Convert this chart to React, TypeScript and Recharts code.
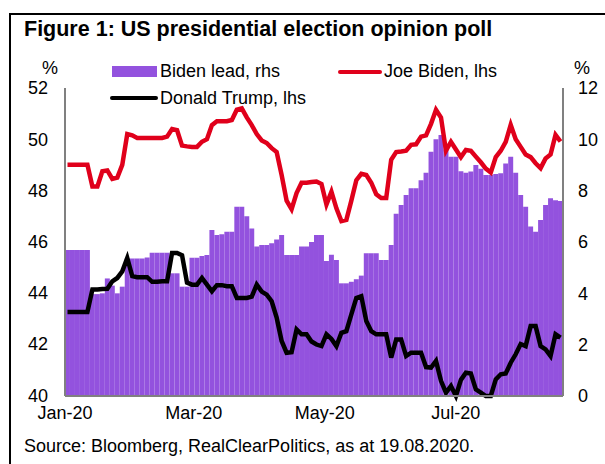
import React from "react";
import { ComposedChart, Bar, Line, XAxis, YAxis, Legend } from "recharts";

// daily data 1 Jan - 19 Aug 2020 in ~2.3 day steps
const DAYS = 232;
const tickDays = [0, 60, 121, 182];
const tickLabels = ["Jan-20", "Mar-20", "May-20", "Jul-20"];
const leftTicks = [40, 42, 44, 46, 48, 50, 52];
const rightTicks = [0, 2, 4, 6, 8, 10, 12];

const bidenLhs = [
  49.0, 49.0, 49.0, 49.0, 49.0, 48.15, 48.15, 48.75, 48.78, 48.45,
  48.5, 49.0, 50.2, 50.15, 50.05, 50.05, 50.05, 50.05, 50.05, 50.05,
  50.1, 50.4, 50.35, 49.75, 49.72, 49.7, 49.7, 49.9, 50.0, 50.55,
  50.7, 50.7, 50.7, 50.75, 51.15, 51.2, 50.85, 50.55, 50.2, 49.95,
  49.85, 49.65, 49.5, 48.6, 47.6, 47.27, 47.9, 48.3, 48.3, 48.33,
  48.35, 48.25, 47.45, 47.95, 47.3, 46.8, 46.85, 47.6, 48.4, 48.65,
  48.6, 48.3, 47.85, 47.7, 47.7, 49.2, 49.5, 49.52, 49.55, 49.78,
  49.8, 50.1, 50.15, 50.6, 51.15, 50.85, 49.55, 49.9, 49.6, 49.3,
  49.58, 49.55, 49.32, 49.1, 48.85, 48.7, 49.3, 49.55, 49.9, 50.56,
  50.0, 49.7, 49.4, 49.3, 49.06, 48.87, 49.25, 49.4, 50.17, 49.91,
];

const trumpLhs = [
  43.25, 43.25, 43.25, 43.25, 43.25, 44.13, 44.13, 44.15, 44.16, 44.45,
  44.58, 44.84, 45.36, 44.65, 44.61, 44.61, 44.61, 44.43, 44.43, 44.45,
  44.45, 45.56, 45.56, 45.47, 44.4, 44.32, 44.32, 44.58, 44.32, 44.06,
  44.3, 44.3, 44.26, 44.26, 43.8, 43.8, 43.8, 43.85, 44.32, 44.05,
  43.93, 43.67, 43.03, 42.12, 41.66, 41.68, 42.57, 42.38, 42.38, 42.1,
  41.98, 41.92, 42.38, 42.2, 41.92, 42.44, 42.5, 43.16, 43.8, 43.87,
  42.9, 42.5, 42.38, 42.38, 42.38, 41.47, 42.18, 42.18, 41.53, 41.66,
  41.66, 41.66, 41.1, 41.08, 41.34, 40.56, 40.1, 40.36, 39.97, 40.6,
  40.88, 40.85, 40.23, 40.1, 39.97, 39.97, 40.62, 40.82, 40.85, 41.27,
  41.6, 42.0, 41.92, 42.7, 42.7, 41.92, 41.79, 41.53, 42.38, 42.25,
];

const leadRhs = [
  5.69, 5.69, 5.69, 5.69, 5.69, 3.97, 3.97, 4.0, 4.58, 4.3,
  4.0, 4.26, 5.36, 5.36, 5.36, 5.36, 5.4, 5.58, 5.58, 5.58,
  5.58, 4.78, 4.78, 4.26, 4.26, 5.39, 5.39, 5.45, 5.49, 6.47,
  6.27, 6.3, 6.4, 6.4, 7.37, 7.37, 7.0, 6.53, 5.82, 5.88,
  5.88, 5.95, 6.1, 6.27, 5.49, 5.49, 5.49, 5.82, 5.82, 6.0,
  6.27, 6.27, 5.26, 5.5, 5.3, 4.39, 4.39, 4.45, 4.55, 4.69,
  5.56, 5.56, 5.56, 5.3, 5.3, 5.88, 7.1, 7.44, 7.83, 8.09,
  8.09, 8.41, 8.7, 9.52, 10.0, 10.17, 9.6, 9.32, 9.32, 8.76,
  8.7, 8.75, 9.0, 8.85, 8.61, 8.61, 8.65, 8.68, 9.06, 9.32,
  8.7, 7.83, 7.37, 6.6, 6.4, 6.86, 7.44, 7.7, 7.63, 7.6,
];

const data = bidenLhs.map((b, i) => ({
  day: ((i + 0.5) * DAYS) / bidenLhs.length,
  biden: b,
  trump: trumpLhs[i],
  lead: leadRhs[i],
}));

const PURPLE = "#9352de";
const RED = "#e0001b";
const FONT = "'Liberation Sans', Arial, sans-serif";

const tickStyle = { fontSize: 18, fill: "#000", fontFamily: FONT };

const LegendBox = () => (
  <div style={{ position: "relative", height: 0, fontFamily: FONT, fontSize: 18, color: "#000" }}>
    <div style={{ position: "absolute", left: 112, top: 66, width: 45, height: 11, background: PURPLE }} />
    <div style={{ position: "absolute", left: 160, top: 61, lineHeight: "20px" }}>Biden lead, rhs</div>
    <div style={{ position: "absolute", left: 338, top: 70, width: 44, height: 4, borderRadius: 2, background: RED }} />
    <div style={{ position: "absolute", left: 384, top: 61, lineHeight: "20px" }}>Joe Biden, lhs</div>
    <div style={{ position: "absolute", left: 110, top: 96, width: 48, height: 4, borderRadius: 2, background: "#000" }} />
    <div style={{ position: "absolute", left: 160, top: 88, lineHeight: "20px" }}>Donald Trump, lhs</div>
  </div>
);

export default function App() {
  return (
    <div
      style={{
        position: "absolute",
        left: 0,
        top: 0,
        width: 605,
        height: 464,
        overflow: "hidden",
        background: "#fff",
        fontFamily: FONT,
      }}
    >
      <div
        style={{
          position: "absolute",
          left: 9,
          top: 13,
          width: 640,
          height: 500,
          border: "2px solid #000",
        }}
      />
      <div style={{ position: "absolute", left: 24, top: 17, fontSize: 21.5, fontWeight: "bold", lineHeight: "24px" }}>
        Figure 1: US presidential election opinion poll
      </div>
      <div style={{ position: "absolute", left: 42, top: 58, fontSize: 18, lineHeight: "20px" }}>%</div>
      <div style={{ position: "absolute", left: 574, top: 58, fontSize: 18, lineHeight: "20px" }}>%</div>
      <ComposedChart
        width={605}
        height={464}
        data={data}
        margin={{ top: 88, right: 0, bottom: 0, left: 0 }}
        barCategoryGap={0}
        barGap={0}
      >
        <XAxis
          type="number"
          dataKey="day"
          domain={[0, DAYS]}
          ticks={tickDays}
          tickFormatter={(v: number) => tickLabels[tickDays.indexOf(v)]}
          height={68}
          axisLine={{ stroke: "#808080", strokeWidth: 2 }}
          tickLine={false}
          tick={tickStyle}
          tickMargin={4}
        />
        <YAxis
          yAxisId="left"
          orientation="left"
          domain={[40, 52]}
          ticks={leftTicks}
          width={65}
          axisLine={{ stroke: "#808080", strokeWidth: 2 }}
          tickLine={false}
          tick={tickStyle}
          tickMargin={11}
        />
        <YAxis
          yAxisId="right"
          orientation="right"
          domain={[0, 12]}
          ticks={rightTicks}
          width={42}
          axisLine={{ stroke: "#808080", strokeWidth: 2 }}
          tickLine={false}
          tick={tickStyle}
          tickMargin={9}
        />
        <Legend content={<LegendBox />} wrapperStyle={{ top: 0, left: 0, width: 605, height: 0 }} />
        <Bar yAxisId="right" dataKey="lead" fill={PURPLE} barSize={4.97} isAnimationActive={false} />
        <Line
          yAxisId="left"
          type="linear"
          dataKey="biden"
          stroke={RED}
          strokeWidth={4.5}
          dot={false}
          isAnimationActive={false}
        />
        <Line
          yAxisId="left"
          type="linear"
          dataKey="trump"
          stroke="#000"
          strokeWidth={4.5}
          dot={false}
          isAnimationActive={false}
        />
      </ComposedChart>
      <div style={{ position: "absolute", left: 24, top: 436, fontSize: 18, lineHeight: "20px" }}>
        Source: Bloomberg, RealClearPolitics, as at 19.08.2020.
      </div>
    </div>
  );
}
